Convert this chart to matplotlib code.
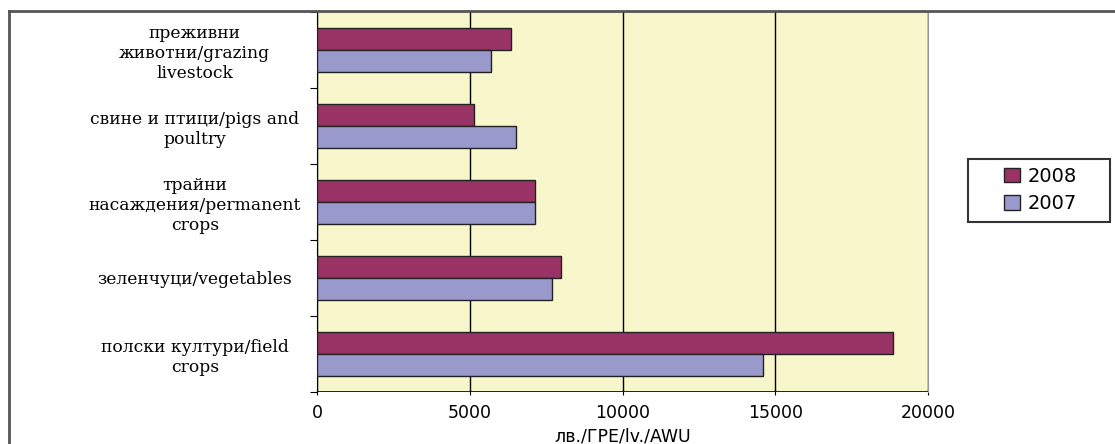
import numpy as np
import matplotlib.pyplot as plt
from matplotlib.lines import Line2D
from matplotlib.patches import Patch, Rectangle

categories = [
    "полски култури/field\ncrops",
    "зеленчуци/vegetables",
    "трайни\nнасаждения/permanent\ncrops",
    "свине и птици/pigs and\npoultry",
    "преживни\nживотни/grazing\nlivestock",
]
years = ["2008", "2007"]
vals_2008 = [18850, 8000, 7150, 5150, 6350]
vals_2007 = [14600, 7680, 7150, 6500, 5700]
xticks = [0, 5000, 10000, 15000, 20000]
xlabel = "лв./ГРЕ/lv./AWU"

c2008 = "#993366"
c2007 = "#9999CC"

W, H = 1115, 444
fig = plt.figure(figsize=(W / 100, H / 100), dpi=100)
ax = fig.add_axes([317 / W, 1 - 392 / H, 611 / W, 380 / H])
ax.set_facecolor("#F8F6CB")

y = np.arange(len(categories))
h = 0.29
ax.barh(y + h / 2, vals_2008, height=h, color=c2008, edgecolor="#222222", linewidth=1, zorder=3)
ax.barh(y - h / 2, vals_2007, height=h, color=c2007, edgecolor="#222222", linewidth=1, zorder=3)

ax.set_xlim(0, 20000)
ax.set_ylim(-0.5, len(categories) - 0.5)
ax.set_xticks(xticks)
ax.set_xticklabels([str(t) for t in xticks], family="DejaVu Sans", fontsize=12.5)
ax.xaxis.grid(True, color="black", linewidth=1, zorder=1)
ax.set_axisbelow(True)

# category ticks sit between groups, labels centred on groups
ax.set_yticks(np.arange(len(categories) + 1) - 0.5)
ax.set_yticklabels([])
ax.set_yticks(y, minor=True)
ax.set_yticklabels(categories, minor=True, family="DejaVu Serif", fontsize=12.3, ha="center",
                   linespacing=1.25)
ax.tick_params(axis="y", which="minor", length=0, pad=88)
ax.tick_params(axis="y", which="major", length=5, direction="out", color="black")
ax.tick_params(axis="x", length=5, direction="inout", color="black", pad=6)

for s in ["top", "bottom"]:
    ax.spines[s].set_visible(False)
ax.spines["left"].set_color("black")
ax.spines["right"].set_color("#999999")
ax.axhline(-0.5, color="black", linewidth=1.2, zorder=4)

ax.set_xlabel(xlabel, family="DejaVu Sans", fontsize=12.5, labelpad=4)

# legend: own frame so the box can be as roomy as the original
fig.add_artist(Rectangle((968 / W, 1 - 222 / H), 142 / W, 63 / H, transform=fig.transFigure,
                         facecolor="white", edgecolor="#333333", linewidth=1.5))
handles = [Patch(facecolor=c2008, edgecolor="#222222", label="2008"),
           Patch(facecolor=c2007, edgecolor="#222222", label="2007")]
leg = fig.legend(handles=handles, loc="center left", bbox_to_anchor=(994 / W, 1 - 190 / H),
                 frameon=False, handlelength=0.85, handleheight=0.75, handletextpad=0.4,
                 borderpad=0, labelspacing=0.45, prop={"family": "DejaVu Sans", "size": 14})

# outer chart border (left and top visible)
fig.add_artist(Line2D([9 / W, 9 / W], [0, 1 - 11 / H], transform=fig.transFigure,
                      color="#555555", linewidth=2))
fig.add_artist(Line2D([9 / W, 1], [1 - 11 / H, 1 - 11 / H], transform=fig.transFigure,
                      color="#555555", linewidth=2))

fig.savefig("out.png", dpi=100, facecolor="white")
